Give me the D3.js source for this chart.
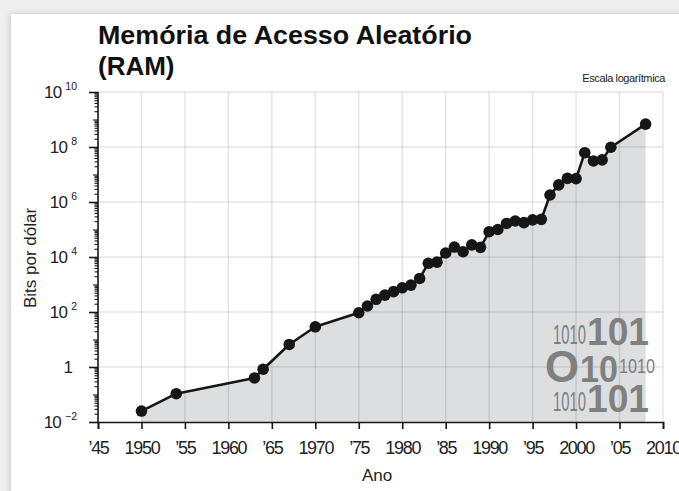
<!DOCTYPE html>
<html>
<head>
<meta charset="utf-8">
<script src="https://cdn.jsdelivr.net/npm/d3@7"></script>
<style>
  html, body { margin: 0; padding: 0; background: #efefef; }
  svg { display: block; }
</style>
</head>
<body>
<svg id="chart" width="679" height="491"></svg>
<script>
// Memory price history: bits per dollar by year (log scale)
const years = [1950, 1954, 1963, 1964, 1967, 1970, 1975, 1976, 1977, 1978, 1979,
  1980, 1981, 1982, 1983, 1984, 1985, 1986, 1987, 1988, 1989, 1990, 1991, 1992,
  1993, 1994, 1995, 1996, 1997, 1998, 1999, 2000, 2001, 2002, 2003, 2004, 2008];
const bitsPerDollar = [0.025, 0.107, 0.4, 0.83, 6.6, 29, 94, 165, 290, 410, 550,
  760, 950, 1660, 5900, 6500, 14000, 23000, 15500, 27500, 22400, 83000, 100000, 166000,
  204000, 178000, 224000, 234000, 1.8e6, 4.2e6, 7.2e6, 7.1e6, 6.2e7, 3.1e7, 3.4e7, 9.8e7, 6.8e8];

const xTickYears = [1945, 1950, 1955, 1960, 1965, 1970, 1975, 1980, 1985, 1990, 1995, 2000, 2005, 2010];
const xTickLabels = ["’45", "1950", "’55", "1960", "’65", "1970", "’75", "1980", "’85", "1990", "’95", "2000", "’05", "2010"];
const yTickExponents = [-2, 0, 2, 4, 6, 8, 10];

const titleLines = ["Memória de Acesso Aleatório", "(RAM)"];
const scaleNote = "Escala logarítmica";
const xAxisTitle = "Ano";
const yAxisTitle = "Bits por dólar";

const data = years.map((yr, i) => ({ year: yr, value: bitsPerDollar[i] }));

const svg = d3.select("#chart");
const W = 679, H = 491;
const plot = { left: 98, right: 663, top: 92, bottom: 422 };
const font = "'Liberation Sans', Arial, Helvetica, sans-serif";
const ink = "#161616";

// Card background with a soft left/top shadow
const defs = svg.append("defs");
const shadow = defs.append("filter").attr("id", "cardShadow")
  .attr("x", "-5%").attr("y", "-5%").attr("width", "110%").attr("height", "110%");
shadow.append("feGaussianBlur").attr("in", "SourceAlpha").attr("stdDeviation", 3);
shadow.append("feOffset").attr("dx", -1).attr("dy", 0).attr("result", "blur");
shadow.append("feComponentTransfer").append("feFuncA").attr("type", "linear").attr("slope", 0.18);
const merge = shadow.append("feMerge");
merge.append("feMergeNode");
merge.append("feMergeNode").attr("in", "SourceGraphic");

svg.append("rect").attr("width", W).attr("height", H).attr("fill", "#efefef");
svg.append("rect").attr("x", 11).attr("y", 14).attr("width", W).attr("height", H)
  .attr("fill", "#ffffff").attr("filter", "url(#cardShadow)");

const x = d3.scaleLinear().domain([1945, 2010]).range([plot.left, plot.right]);
const y = d3.scaleLog().domain([1e-2, 1e10]).range([plot.bottom, plot.top]);

// Shaded area under the series
const area = d3.area()
  .x(d => x(d.year))
  .y0(y(1e-2))
  .y1(d => y(d.value));
svg.append("path").datum(data).attr("d", area).attr("fill", "#dcdedf");

// Grid lines
const grid = svg.append("g").attr("stroke", "#000").attr("stroke-opacity", 0.1).attr("stroke-width", 1.5);
grid.selectAll("line.v").data(xTickYears.slice(1)).join("line")
  .attr("x1", d => x(d)).attr("x2", d => x(d))
  .attr("y1", plot.top).attr("y2", plot.bottom);
grid.selectAll("line.h").data(yTickExponents.slice(1)).join("line")
  .attr("x1", plot.left).attr("x2", plot.right)
  .attr("y1", d => y(Math.pow(10, d))).attr("y2", d => y(Math.pow(10, d)));

// Binary motif
const binary = svg.append("g").attr("fill", "#808080").attr("font-family", font);
const binaryRuns = [
  { t: "1010", x: 553, w: 33, b: 344, s: 27, wt: "normal" },
  { t: "101", x: 587, w: 62, b: 345, s: 39, wt: "bold" },
  { t: "O", x: 545, w: 34, b: 382, s: 44, wt: "bold" },
  { t: "10", x: 580, w: 38, b: 382, s: 36, wt: "bold" },
  { t: "1010", x: 619, w: 36, b: 373, s: 20, wt: "normal" },
  { t: "1010", x: 553, w: 33, b: 411, s: 27, wt: "normal" },
  { t: "101", x: 587, w: 62, b: 412, s: 39, wt: "bold" }
];
binary.selectAll("text").data(binaryRuns).join("text")
  .attr("x", d => d.x).attr("y", d => d.b)
  .attr("font-size", d => d.s).attr("font-weight", d => d.wt)
  .attr("textLength", d => d.w).attr("lengthAdjust", "spacingAndGlyphs")
  .text(d => d.t);

// Series line and markers
const line = d3.line().x(d => x(d.year)).y(d => y(d.value));
svg.append("path").datum(data).attr("d", line)
  .attr("fill", "none").attr("stroke", ink).attr("stroke-width", 2.6).attr("stroke-linejoin", "round");
svg.selectAll("circle.pt").data(data).join("circle")
  .attr("class", "pt")
  .attr("cx", d => x(d.year)).attr("cy", d => y(d.value)).attr("r", 5.8)
  .attr("fill", ink);

// X axis
const xAxis = d3.axisBottom(x).tickValues(xTickYears)
  .tickFormat((d, i) => xTickLabels[i]).tickSize(7).tickPadding(12);
const gx = svg.append("g").attr("transform", `translate(0,${plot.bottom})`).call(xAxis);
gx.select(".domain").attr("stroke", ink).attr("stroke-width", 1.6);
gx.selectAll(".tick line").attr("stroke", ink).attr("stroke-width", 1.6);
gx.selectAll(".tick text").attr("font-family", font).attr("font-size", 18)
  .attr("fill", "#222").attr("letter-spacing", -1.3);

// Y axis: minor ticks at 2..9 × 10^k, medium at odd decades, major at even decades
const minorVals = [];
for (let e = -2; e < 10; e++) for (let m = 2; m <= 9; m++) minorVals.push(m * Math.pow(10, e));
const oddVals = [-1, 1, 3, 5, 7, 9].map(e => Math.pow(10, e));
const majorVals = yTickExponents.map(e => Math.pow(10, e));

function yTicks(vals, size) {
  const g = svg.append("g").attr("transform", `translate(${plot.left},0)`)
    .call(d3.axisLeft(y).tickValues(vals).tickSize(size).tickFormat(""));
  g.select(".domain").remove();
  g.selectAll(".tick line").attr("stroke", ink).attr("stroke-width", 1.1);
  return g;
}
yTicks(minorVals, 3.5);
yTicks(oddVals, 5);
const gyMajor = yTicks(majorVals, 9);
gyMajor.selectAll(".tick line").attr("stroke-width", 1.6);
svg.append("line").attr("x1", plot.left).attr("x2", plot.left)
  .attr("y1", plot.top).attr("y2", plot.bottom)
  .attr("stroke", ink).attr("stroke-width", 1.6);

// Y tick labels with superscript exponents
const yLab = svg.append("g").attr("font-family", font).attr("fill", "#222");
yTickExponents.forEach(e => {
  const yy = y(Math.pow(10, e)) + 6;
  if (e === 0) {
    yLab.append("text").attr("x", 73).attr("y", yy).attr("text-anchor", "end")
      .attr("font-size", 17).text("1");
  } else {
    const t = yLab.append("text").attr("x", 77).attr("y", yy).attr("text-anchor", "end");
    t.append("tspan").attr("font-size", 17).attr("letter-spacing", -0.8).text("10");
    t.append("tspan").attr("font-size", 10.5).attr("dx", 4).attr("dy", -8)
      .text(e < 0 ? "−" + Math.abs(e) : String(e));
  }
});

// Titles
svg.append("text").attr("x", 98).attr("y", 44).attr("font-family", font)
  .attr("font-size", 26).attr("font-weight", "bold").attr("fill", "#111")
  .attr("textLength", 374).attr("lengthAdjust", "spacingAndGlyphs")
  .text(titleLines[0]);
svg.append("text").attr("x", 98).attr("y", 75).attr("font-family", font)
  .attr("font-size", 26).attr("font-weight", "bold").attr("fill", "#111")
  .text(titleLines[1]);
svg.append("text").attr("x", 665).attr("y", 82).attr("text-anchor", "end")
  .attr("font-family", font).attr("font-size", 11).attr("letter-spacing", -0.4)
  .attr("fill", "#222").text(scaleNote);

svg.append("text").attr("x", 377).attr("y", 481).attr("text-anchor", "middle")
  .attr("font-family", font).attr("font-size", 17).attr("fill", "#222").text(xAxisTitle);
svg.append("text").attr("transform", "translate(36,258) rotate(-90)")
  .attr("text-anchor", "middle").attr("font-family", font).attr("font-size", 17)
  .attr("fill", "#222").text(yAxisTitle);
</script>
</body>
</html>
